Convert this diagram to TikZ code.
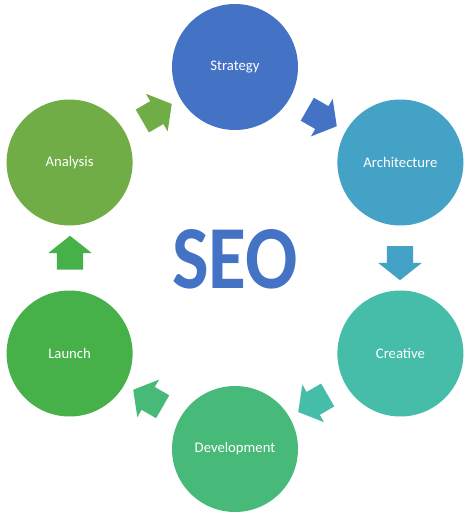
\documentclass[tikz,border=0pt]{standalone}
\usepackage{fontspec}
\setmainfont{Carlito}
\usetikzlibrary{shapes.arrows, positioning}
\definecolor{StratBlue}{HTML}{4472C4}
\definecolor{ArchTeal}{HTML}{43A2C5}
\definecolor{CreaTeal}{HTML}{45BDA8}
\definecolor{DevGreen}{HTML}{47B978}
\definecolor{LaunchGreen}{HTML}{46B049}
\definecolor{AnaGreen}{HTML}{70AD47}

\begin{document}
\begin{tikzpicture}[x=1pt, y=1pt,
    stage/.style={circle, minimum size=126pt, inner sep=0pt, text=white,
                  font=\fontsize{14.7}{17}\selectfont},
    cyclearrow/.style={single arrow, minimum height=34pt, inner xsep=0pt,
                       inner ysep=13pt, single arrow head extend=8.5pt,
                       single arrow tip angle=103}]
  \useasboundingbox (0,0) rectangle (468,515);
  \begin{scope}[shift={(235,257)}]
    % stages of the cycle
    \node[stage, fill=StratBlue]   (strategy)     at (90:191)  {Strategy};
    \node[stage, fill=ArchTeal]    (architecture) at (30:191)  {Architecture};
    \node[stage, fill=CreaTeal]    (creative)     at (-30:191) {Creative};
    \node[stage, fill=DevGreen]    (development)  at (-90:191) {Development};
    \node[stage, fill=LaunchGreen] (launch)       at (-150:191) {Launch};
    \node[stage, fill=AnaGreen]    (analysis)     at (150:191) {Analysis};
    % block arrows, clockwise
    \node[cyclearrow, fill=StratBlue,   rotate=-30]  (toarch)   at (60:165)   {};
    \node[cyclearrow, fill=ArchTeal,    rotate=-90]  (tocrea)   at (0:165)    {};
    \node[cyclearrow, fill=CreaTeal,    rotate=-150] (todev)    at (-60:165)  {};
    \node[cyclearrow, fill=DevGreen,    rotate=150]  (tolaunch) at (-120:165) {};
    \node[cyclearrow, fill=LaunchGreen, rotate=90]   (toana)    at (180:165)  {};
    \node[cyclearrow, fill=AnaGreen,    rotate=30]   (tostrat)  at (120:165)  {};
    % title in the middle
    \node[text=StratBlue, xscale=0.86,
          font=\bfseries\fontsize{90}{94}\selectfont] (seo) at (0,-1) {SEO};
  \end{scope}
\end{tikzpicture}
\end{document}
